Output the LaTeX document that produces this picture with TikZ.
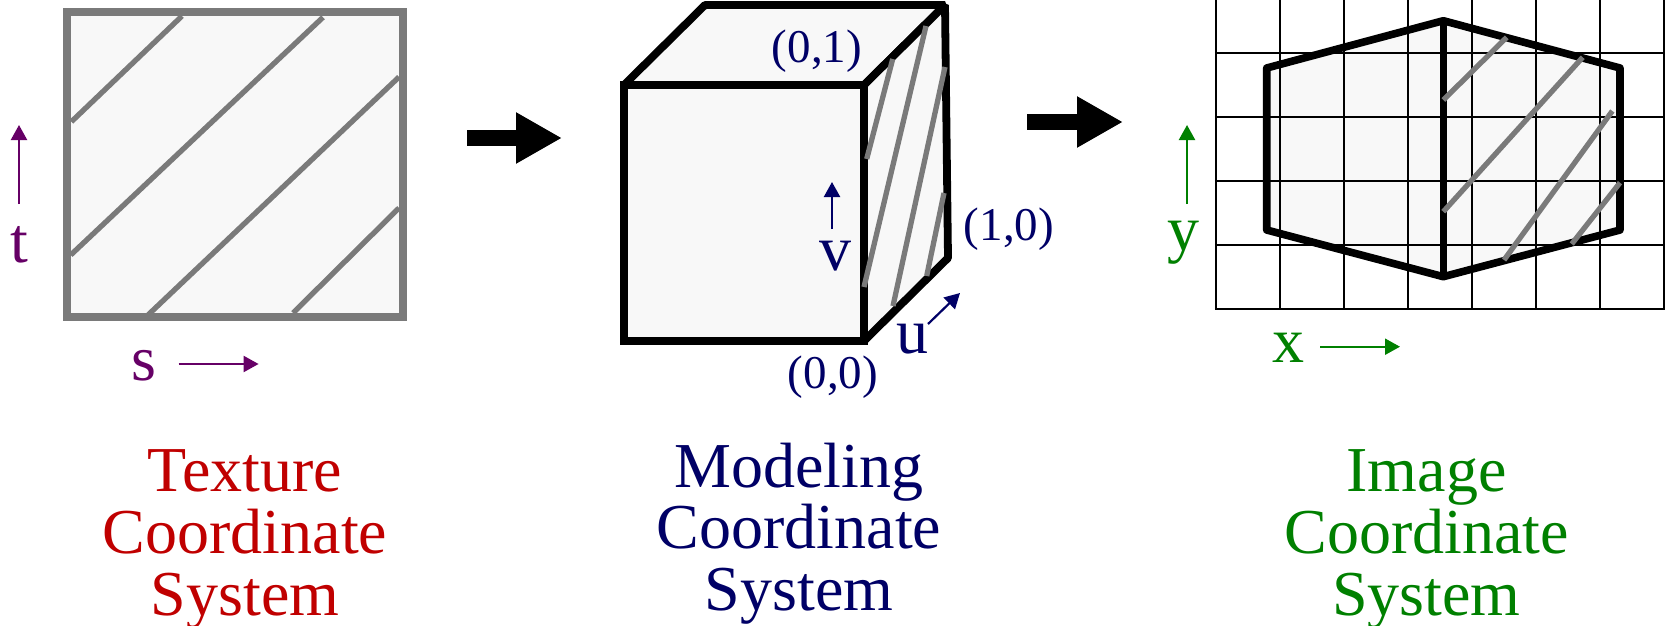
\documentclass[tikz,border=0pt]{standalone}
\usepackage{fontspec}
\setmainfont{Liberation Serif}
\usetikzlibrary{arrows.meta}
\definecolor{texred}{HTML}{C00000}
\definecolor{modnavy}{HTML}{000066}
\definecolor{imggreen}{HTML}{008000}
\definecolor{texpurple}{HTML}{660066}
\definecolor{hatchgrey}{HTML}{7A7A7A}
\definecolor{facefill}{HTML}{F8F8F8}
\tikzset{
  face/.style={fill=facefill,draw=black,line width=7.8pt,line join=bevel},
  hatch/.style={draw=hatchgrey,line width=5.3pt},
  gridline/.style={draw=black,line width=1.7pt},
  thin axis/.style={line width=2.2pt,-{Triangle[length=15pt,width=16pt]}},
  bigarrow/.style={line width=16pt,-{Triangle[length=46pt,width=48pt]},black},
  title/.style={font=\fontsize{64}{61.6}\selectfont,align=center,anchor=base,inner sep=0pt},
  axislabel/.style={font=\fontsize{64}{64}\selectfont,anchor=base,inner sep=0pt},
  corner/.style={font=\fontsize{47}{48}\selectfont,anchor=base,inner sep=0pt,text=modnavy},
}
\begin{document}
\begin{tikzpicture}[x=1pt,y=-1pt]
\useasboundingbox (0,0) rectangle (1667,626);
% Texture square
\draw[fill=facefill,draw=hatchgrey,line width=8pt] (67,12.5) rectangle (403,316.5);
\draw[hatch] (71.4,121.7) -- (182,16);
\draw[hatch] (70.7,255) -- (323,17.3);
\draw[hatch] (148,315) -- (399,77);
\draw[hatch] (293,313) -- (399,208);
\coordinate (tA) at (19,204); \coordinate (tB) at (19,125);
\draw[thin axis,texpurple] (tA) -- (tB);
\node[axislabel,text=texpurple] (tl) at (19.5,262) {t};
\coordinate (sA) at (178.6,364); \coordinate (sB) at (258.6,364);
\draw[thin axis,texpurple] (sA) -- (sB);
\node[axislabel,text=texpurple] (sl) at (143.5,380) {s};
\coordinate (a1) at (467,138); \coordinate (a1t) at (562,138);
\draw[bigarrow] (a1) -- (a1t);
% Cube
\coordinate (fa) at (624,85); \coordinate (fb) at (864,85);
\coordinate (fc) at (864,341); \coordinate (fd) at (624,341);
\coordinate (ba) at (705,5); \coordinate (bb) at (945,5); \coordinate (bc) at (948,258);
\draw[face] (fa) -- (ba) -- (bb) -- (fb) -- cycle;
\draw[face] (fb) -- (bb) -- (bc) -- (fc) -- cycle;
\draw[face,line join=miter] (fa) rectangle (fc);
\draw[hatch] (866.7,159) -- (892.7,59);
\draw[hatch] (864,287) -- (926,26);
\draw[hatch] (893,306) -- (945,67);
\draw[hatch] (926.7,276) -- (944,193);
\coordinate (vA) at (832,229); \coordinate (vB) at (832,182);
\draw[thin axis,modnavy] (vA) -- (vB);
\node[axislabel,text=modnavy] (vl) at (835,270) {v};
\coordinate (uA) at (928,324); \coordinate (uB) at (960,293);
\draw[thin axis,modnavy] (uA) -- (uB);
\node[axislabel,text=modnavy] (ul) at (912,353) {u};
\node[corner] (c01) at (817,63) {(0,1)};
\node[corner] (c10) at (1009,240) {(1,0)};
\node[corner] (c00) at (833,388) {(0,0)};
\coordinate (a2) at (1027,122); \coordinate (a2t) at (1123,122);
\draw[bigarrow] (a2) -- (a2t);
% Image
\coordinate (h1) at (1266.7,68); \coordinate (h2) at (1443.3,20.7); \coordinate (h3) at (1620,68);
\coordinate (h4) at (1620,230); \coordinate (h5) at (1443.3,276.7); \coordinate (h6) at (1266.7,230);
\fill[facefill] (h1) -- (h2) -- (h3) -- (h4) -- (h5) -- (h6) -- cycle;
\foreach \gx in {1215.7,1279.7,1343.7,1407.7,1471.7,1535.7,1599.7,1663.7}
  \draw[gridline] (\gx,0) -- (\gx,308.7);
\foreach \gy in {52.7,116.7,180.7,244.7,308.7}
  \draw[gridline] (1214.9,\gy) -- (1664.5,\gy);
\draw[draw=black,line width=7.6pt,line join=round] (h1) -- (h2) -- (h3) -- (h4) -- (h5) -- (h6) -- cycle;
\draw[draw=black,line width=7.6pt] (h2) -- (h5);
\draw[hatch] (1443.3,100) -- (1506.7,37.3);
\draw[hatch] (1443.3,211.7) -- (1582.7,57.3);
\draw[hatch] (1504,260) -- (1612.3,111);
\draw[hatch] (1571.7,244) -- (1620,182.7);
\coordinate (yA) at (1187,204); \coordinate (yB) at (1187,125);
\draw[thin axis,imggreen] (yA) -- (yB);
\node[axislabel,text=imggreen] (yl) at (1183,250) {y};
\coordinate (xA) at (1320,346.7); \coordinate (xB) at (1400,346.7);
\draw[thin axis,imggreen] (xA) -- (xB);
\node[axislabel,text=imggreen] (xl) at (1288,362.7) {x};
% Titles
\node[title,text=texred] (t1) at (245,615) {Texture\\Coordinate\\System};
\node[title,text=modnavy] (t2) at (799,610.5) {Modeling\\Coordinate\\System};
\node[title,text=imggreen] (t3) at (1426.5,615) {Image\\Coordinate\\System};
\end{tikzpicture}
\end{document}
